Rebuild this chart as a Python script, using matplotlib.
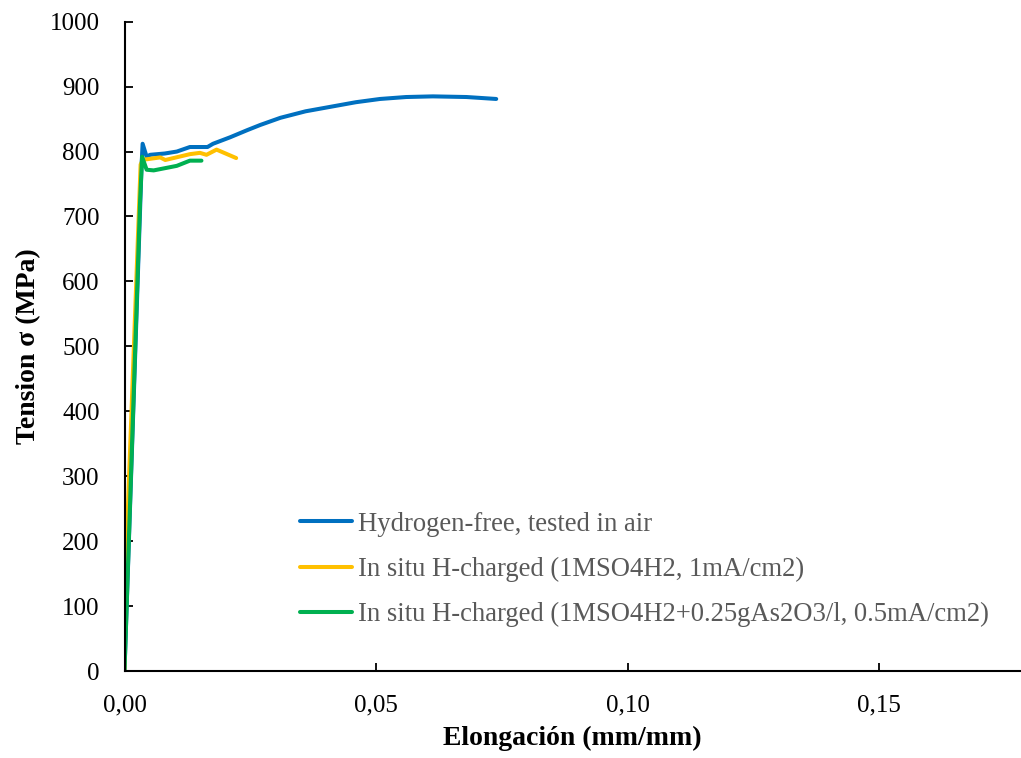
import matplotlib
matplotlib.use("Agg")
import matplotlib.pyplot as plt
from matplotlib.ticker import FuncFormatter, MultipleLocator

# Data (strain mm/mm, stress MPa)
blue_x = [0, 0.0034, 0.0036, 0.0044, 0.0051, 0.0080, 0.0104, 0.0130, 0.0150, 0.0165, 0.0176,
          0.0210, 0.0244, 0.0270, 0.0310, 0.0360, 0.0410, 0.0460, 0.0508, 0.0560, 0.0613, 0.0680, 0.0739]
blue_y = [0, 780, 812, 792, 795, 797, 800, 807, 807, 807, 812,
          822, 833, 841, 852, 862, 869, 876, 881, 884, 885, 884, 881]

yellow_x = [0, 0.0002, 0.0032, 0.0037, 0.0043, 0.0071, 0.0081, 0.0130, 0.0150, 0.0163, 0.0183, 0.0222]
yellow_y = [0, 150, 780, 788, 788, 791, 787, 796, 798, 795, 803, 790]

green_x = [0, 0.0031, 0.0035, 0.0044, 0.0058, 0.0104, 0.0130, 0.0153]
green_y = [0, 725, 792, 772, 771, 778, 786, 786]

labels = ["Hydrogen-free, tested in air",
          "In situ H-charged (1MSO4H2, 1mA/cm2)",
          "In situ H-charged (1MSO4H2+0.25gAs2O3/l, 0.5mA/cm2)"]
colors = ["#0070C0", "#FFC000", "#00B050"]

plt.rcParams['font.family'] = ['Liberation Serif', 'DejaVu Serif']

fig = plt.figure(figsize=(10.21, 7.58), dpi=100)
ax = fig.add_axes([124.5 / 1021, (758 - 671) / 758, 1 - 124.5 / 1021, (671 - 21.7) / 758])

ax.plot(blue_x, blue_y, color=colors[0], lw=2.9, label=labels[0], solid_capstyle='round', solid_joinstyle='round')
ax.plot(yellow_x, yellow_y, color=colors[1], lw=2.9, label=labels[1], solid_capstyle='round', solid_joinstyle='round')
ax.plot(green_x, green_y, color=colors[2], lw=2.9, label=labels[2], solid_capstyle='round', solid_joinstyle='round')

ax.set_xlim(0, (1021 - 124.5) / 5030)
ax.set_ylim(0, 1000)
ax.xaxis.set_major_locator(MultipleLocator(0.05))
ax.yaxis.set_major_locator(MultipleLocator(100))
ax.xaxis.set_major_formatter(FuncFormatter(lambda v, p: f"{v:.2f}".replace('.', ',')))

for s in ['top', 'right']:
    ax.spines[s].set_visible(False)
for s in ['left', 'bottom']:
    ax.spines[s].set_linewidth(1.5)
    ax.spines[s].set_color('black')

ax.tick_params(axis='both', direction='in', length=6, width=1.3, labelsize=18, colors='black')
ax.tick_params(axis='y', pad=18)
ax.tick_params(axis='x', pad=17)

ax.set_xlabel("Elongación (mm/mm)", fontsize=20, fontweight='bold', labelpad=7)
ax.set_ylabel("Tension σ (MPa)", fontsize=20, fontweight='bold', labelpad=6)

leg = ax.legend(loc='center left', bbox_to_anchor=(300 / 1021, (758 - 569.5) / 758),
                bbox_transform=fig.transFigure, frameon=False, fontsize=19.15,
                borderpad=0, borderaxespad=0, handlelength=1.96, handletextpad=0.23,
                labelspacing=0.76)
for t in leg.get_texts():
    t.set_color('#595959')

fig.savefig("out.png", dpi=100)
